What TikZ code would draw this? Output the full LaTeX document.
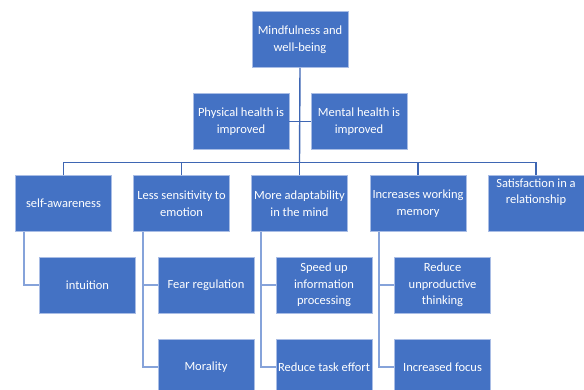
\documentclass[tikz,border=0pt]{standalone}
\usepackage{fontspec}
\setmainfont{Carlito}
\definecolor{boxfill}{HTML}{4472C4}
\definecolor{boxedge}{HTML}{A9BDE5}
\definecolor{topline}{HTML}{3E66B3}
\definecolor{subline}{HTML}{86A3DA}
\begin{document}
\begin{tikzpicture}[x=1pt,y=-1pt,
  box/.style={draw=boxedge, line width=0.5pt, fill=boxfill, text=white,
    minimum width=96pt, minimum height=56pt, inner sep=1pt, align=center,
    font=\fontsize{12.5}{16.5}\selectfont},
  txt/.style={text=white, align=center, inner sep=0pt,
    font=\fontsize{12.5}{16.5}\selectfont},
  mainline/.style={draw=topline, line width=1.4pt},
  subconn/.style={draw=subline, line width=1.6pt}]
\useasboundingbox (0,0) rectangle (584,389);
% nodes
\node[box] (root) at (300,39.5) {Mindfulness and\\well-being};
\node[box] (phys) at (241,121.5) {Physical health is\\improved};
\node[box] (ment) at (359,121.5) {Mental health is\\improved};
\node[box] (self) at (63.5,203.5) {self-awareness};
\node[box] (less) at (181.5,203.5) {Less sensitivity to\\emotion};
\node[box] (more) at (299.5,203.5) {More adaptability\\in the mind};
\node[box] (incr) at (418,203.5) {Increases working\\memory};
\node[box] (sat) at (536,203.5) {};
\node[txt, anchor=north] (sattxt) at ([yshift=-3pt]sat.north) {Satisfaction in a\\relationship};
\node[box] (intu) at (87.5,285) {intuition};
\node[box] (fear) at (206,285) {Fear regulation};
\node[box] (mora) at (206,367) {Morality};
\node[box] (speed) at (324,285) {Speed up\\information\\processing};
\node[box] (task) at (324,367) {Reduce task effort};
\node[box] (unpr) at (442.5,285) {Reduce\\unproductive\\thinking};
\node[box] (focus) at (442.5,367) {Increased focus};
% connectors
\coordinate (bar) at (299.5,162.5);
\draw[mainline] (root.south) -- (bar);
\draw[mainline] (phys.east) -- (ment.west);
\draw[mainline] (self.north) |- (bar) -| (sat.north);
\draw[mainline] (less.north) -- (less.north |- bar);
\draw[mainline] (more.north) -- (bar);
\draw[mainline] (incr.north) -- (incr.north |- bar);
\draw[subconn] ([xshift=9pt]self.south west) |- (intu.west);
\draw[subconn] ([xshift=10pt]less.south west) |- (fear.west);
\draw[subconn] ([xshift=10pt]less.south west) |- (mora.west);
\draw[subconn] ([xshift=10pt]more.south west) |- (speed.west);
\draw[subconn] ([xshift=10pt]more.south west) |- (task.west);
\draw[subconn] ([xshift=9pt]incr.south west) |- (unpr.west);
\draw[subconn] ([xshift=9pt]incr.south west) |- (focus.west);
\end{tikzpicture}
\end{document}
